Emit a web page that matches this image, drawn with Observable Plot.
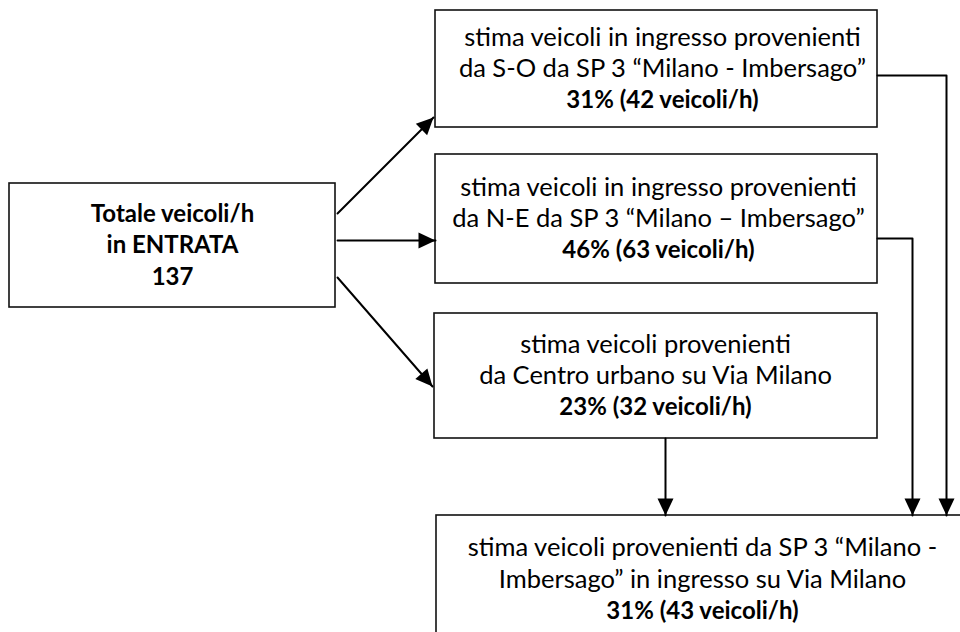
<!DOCTYPE html>
<html>
<head>
<meta charset="utf-8">
<script src="https://cdn.jsdelivr.net/npm/d3@7"></script>
<script src="https://cdn.jsdelivr.net/npm/@observablehq/plot@0.6"></script>
<style>
  html, body { margin: 0; padding: 0; background: #fff; }
  #chart svg { display: block; }
</style>
</head>
<body>
<div id="chart"></div>
<script>
// ---- Data ----
const totalLines = ["Totale veicoli/h", "in ENTRATA"];
const totalVehicles = 137;

const branchIds = ["SO", "NE", "CU"];
const branchText = [
  ["stima veicoli in ingresso provenienti", "da S-O da SP 3 \u201cMilano - Imbersago\u201d"],
  ["stima veicoli in ingresso provenienti", "da N-E da SP 3 \u201cMilano \u2013 Imbersago\u201d"],
  ["stima veicoli provenienti", "da Centro urbano su Via Milano"]
];
const branchPercent = [31, 46, 23];
const branchVehicles = [42, 63, 32];

const outText = ["stima veicoli provenienti da SP 3 \u201cMilano -", "Imbersago\u201d in ingresso su Via Milano"];
const outPercent = 31;
const outVehicles = 43;

// ---- Layout (pixel space of the 960x632 canvas) ----
const boxLayout = {
  TOT: {x1: 9,   x2: 335, y1: 183, y2: 307, cx: 172},
  SO:  {x1: 435, x2: 877, y1: 10,  y2: 127, cx: 662},
  NE:  {x1: 435, x2: 877, y1: 154, y2: 283, cx: 658},
  CU:  {x1: 434, x2: 877, y1: 313, y2: 438, cx: 655},
  OUT: {x1: 436, x2: 968, y1: 515, y2: 645, cx: 702, cy: 579}
};
const connectorPaths = [
  {id: "a", pts: [[337, 213], [433, 117]]},
  {id: "b", pts: [[337, 240], [435, 240]]},
  {id: "c", pts: [[337, 277], [432, 386]]},
  {id: "d", pts: [[665, 438], [665, 515]]},
  {id: "e", pts: [[877, 238], [912, 238], [912, 515]]},
  {id: "f", pts: [[877, 75], [946, 75], [946, 515]]}
];
const lineGap = 31.5;
const fontFamily = "Lato, 'Open Sans', sans-serif";
const fontSize = 25.5;
const boldSize = 24;

// ---- Build tables ----
const boxes = [
  {id: "TOT", lines: [...totalLines.map(t => ({t, bold: true})), {t: String(totalVehicles), bold: true}]},
  ...branchIds.map((id, i) => ({
    id,
    lines: [...branchText[i].map(t => ({t, bold: false})),
            {t: `${branchPercent[i]}% (${branchVehicles[i]} veicoli/h)`, bold: true}]
  })),
  {id: "OUT", lines: [...outText.map(t => ({t, bold: false})),
                      {t: `${outPercent}% (${outVehicles} veicoli/h)`, bold: true}]}
];
const rects = boxes.map(b => ({id: b.id, ...boxLayout[b.id]}));
const textRows = boxes.flatMap(b => {
  const L = boxLayout[b.id];
  const cy = L.cy ?? (L.y1 + L.y2) / 2;
  const n = b.lines.length;
  return b.lines.map((l, i) => ({x: L.cx, y: cy + (i - (n - 1) / 2) * lineGap, text: l.t, bold: l.bold}));
});
const linePts = connectorPaths.flatMap(c => c.pts.map(([x, y]) => ({id: c.id, x, y})));
const heads = connectorPaths.map(c => {
  const [x0, y0] = c.pts[c.pts.length - 2];
  const [x1, y1] = c.pts[c.pts.length - 1];
  return {x: x1, y: y1, angle: Math.atan2(x1 - x0, -(y1 - y0)) * 180 / Math.PI};
});

// filled arrowhead, tip at origin, pointing up
const arrowHead = {
  draw(context) {
    context.moveTo(0, 0);
    context.lineTo(-8, 17);
    context.lineTo(8, 17);
    context.closePath();
  }
};

const chart = Plot.plot({
  width: 960,
  height: 632,
  margin: 0,
  x: {domain: [0, 960], range: [0, 960], axis: null},
  y: {domain: [0, 632], range: [0, 632], axis: null},
  style: {background: "#fff", overflow: "hidden"},
  marks: [
    Plot.rect(rects, {x1: "x1", x2: "x2", y1: "y1", y2: "y2", fill: "white", stroke: "#111", strokeWidth: 1.6}),
    Plot.line(linePts, {x: "x", y: "y", z: "id", stroke: "#000", strokeWidth: 2, curve: "linear"}),
    Plot.dot(heads, {x: "x", y: "y", rotate: "angle", symbol: arrowHead, fill: "#000", stroke: "none"}),
    Plot.text(textRows.filter(d => !d.bold), {x: "x", y: "y", text: "text", fontFamily, fontSize, fill: "#000", textAnchor: "middle"}),
    Plot.text(textRows.filter(d => d.bold), {x: "x", y: "y", text: "text", fontFamily, fontSize: boldSize, fontWeight: "bold", fill: "#000", textAnchor: "middle"})
  ]
});
document.getElementById("chart").appendChild(chart);
</script>
</body>
</html>
